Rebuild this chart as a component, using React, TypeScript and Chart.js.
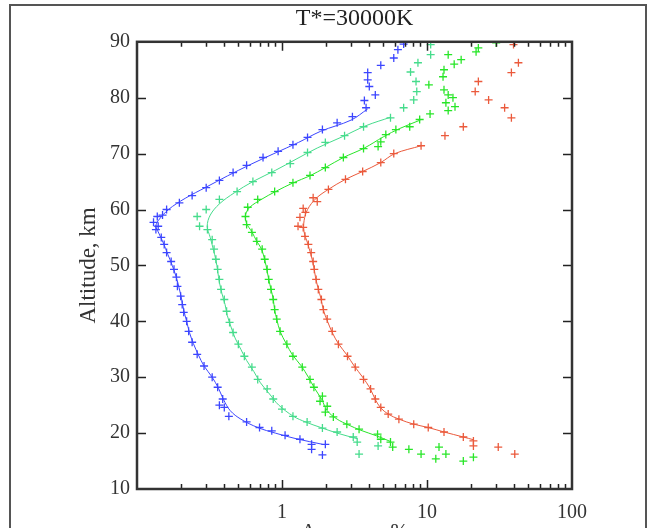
import React, { useEffect, useRef } from "react";
import { Chart, registerables } from "chart.js";

Chart.register(...registerables);

// ---------- data ----------
const chartTitle = "T*=30000K";
const xAxisTitle = "Accuracy, %";
const yAxisTitle = "Altitude, km";
const xTickLabels = [1, 10, 100];
const xMinorTicks = [0.2, 0.3, 0.4, 0.5, 0.6, 0.7, 0.8, 0.9, 1, 2, 3, 4, 5, 6, 7, 8, 9, 10, 20, 30, 40, 50, 60, 70, 80, 90];
const xMajorTicks = [1, 10];
const yTicks = [20, 30, 40, 50, 60, 70, 80];

// blue series (points)
const blueAlt = [89.6, 88.6, 87.1, 85.8, 84.5, 83.2, 82.0, 80.5, 79.5, 78.2, 76.6, 75.5, 74.3, 72.9, 71.6, 70.4, 69.3, 67.9, 66.6, 65.2, 63.9, 62.5, 61.2, 60.0, 59.0, 58.75, 57.7, 57.0, 56.4, 55.0, 53.75, 52.3, 50.7, 49.3, 47.9, 46.25, 44.5, 43.0, 41.6, 40.0, 38.2, 36.25, 34.1, 32.0, 30.0, 28.2, 26.1, 25.0, 24.6, 23.0, 22.0, 21.0, 20.4, 19.6, 18.9, 18.0, 18.0, 17.1, 16.1];
const blueAcc = [6.9, 6.3, 5.9, 4.8, 3.9, 3.9, 4.0, 4.4, 3.7, 3.8, 3.06, 2.4, 1.9, 1.5, 1.19, 0.94, 0.74, 0.57, 0.46, 0.37, 0.30, 0.24, 0.196, 0.16, 0.15, 0.138, 0.13, 0.14, 0.135, 0.147, 0.154, 0.16, 0.172, 0.18, 0.187, 0.19, 0.2, 0.205, 0.21, 0.22, 0.227, 0.24, 0.26, 0.29, 0.33, 0.36, 0.39, 0.37, 0.4, 0.43, 0.57, 0.7, 0.85, 1.05, 1.33, 1.6, 1.99, 1.6, 1.9];
// blue series (fitted line)
const blueFitAlt = [78, 76, 74, 72, 70, 68, 66, 64, 62, 60, 58, 57, 56, 54, 52, 50, 48, 46, 44, 42, 40, 38, 36, 34, 32, 30, 28, 26, 24, 22.5, 21, 20, 19, 18];
const blueFitAcc = [3.9, 3.0, 1.85, 1.3, 0.88, 0.6, 0.42, 0.3, 0.215, 0.165, 0.14, 0.135, 0.14, 0.152, 0.163, 0.175, 0.186, 0.195, 0.203, 0.21, 0.22, 0.23, 0.245, 0.265, 0.29, 0.33, 0.365, 0.395, 0.44, 0.52, 0.68, 0.9, 1.25, 1.9];

// mint series (points)
const mintAlt = [89.5, 87.7, 86.25, 84.6, 82.9, 81.1, 79.6, 78.2, 76.4, 74.8, 73.2, 72.0, 70.2, 68.2, 66.6, 65.0, 63.2, 61.8, 60.0, 58.75, 57.0, 56.4, 54.6, 52.9, 51.1, 49.3, 47.5, 45.7, 43.9, 41.8, 39.8, 38.0, 35.9, 33.75, 31.8, 29.6, 27.9, 26.1, 24.3, 23.0, 22.0, 20.9, 20.2, 19.3, 18.4, 17.7, 16.25];
const mintAcc = [10.6, 10.6, 8.66, 7.7, 8.4, 8.5, 8.1, 6.9, 5.6, 3.65, 2.7, 1.99, 1.5, 1.14, 0.85, 0.63, 0.49, 0.37, 0.3, 0.26, 0.27, 0.306, 0.33, 0.34, 0.35, 0.36, 0.37, 0.38, 0.4, 0.415, 0.435, 0.46, 0.5, 0.55, 0.62, 0.68, 0.79, 0.87, 1.0, 1.19, 1.49, 1.9, 2.4, 3.1, 3.3, 4.6, 3.4];
// mint series (fitted line)
const mintFitAlt = [76.5, 75, 73, 71, 69, 67, 65, 63, 61, 59, 57, 55, 53, 51, 49, 47, 45, 43, 41, 39, 37, 35, 33, 31, 29, 27, 25, 23, 22, 21, 20, 19];
const mintFitAcc = [5.6, 3.8, 2.6, 1.75, 1.25, 0.9, 0.63, 0.47, 0.37, 0.32, 0.305, 0.32, 0.335, 0.35, 0.36, 0.37, 0.385, 0.405, 0.42, 0.445, 0.475, 0.52, 0.57, 0.64, 0.71, 0.82, 0.95, 1.2, 1.45, 1.85, 2.4, 3.3];

// green series (points)
const greenAlt = [89.8, 88.9, 88.2, 87.7, 86.8, 86.0, 85.0, 83.75, 82.3, 81.4, 80.5, 80.0, 79.1, 78.4, 77.7, 77.1, 76.1, 74.8, 74.3, 73.4, 72.1, 71.25, 70.9, 69.3, 67.5, 66.1, 64.8, 63.2, 61.8, 60.4, 58.75, 57.3, 55.9, 54.3, 52.9, 51.1, 49.3, 47.5, 45.7, 43.9, 42.1, 40.4, 38.2, 35.9, 33.75, 31.8, 29.6, 28.2, 26.6, 25.7, 24.8, 23.75, 22.9, 21.6, 20.7, 19.8, 18.9, 18.4, 17.5, 17.1, 16.25, 17.5, 16.25, 15.4, 15.0, 15.7];
const greenAcc = [30, 22.6, 21.8, 14, 17.2, 15.4, 13.1, 12.9, 10.3, 13.1, 14, 15.1, 13.5, 15.6, 14, 10.5, 8.9, 7.6, 6.1, 5.2, 4.8, 4.6, 3.65, 2.65, 1.99, 1.56, 1.19, 0.89, 0.68, 0.58, 0.56, 0.57, 0.62, 0.67, 0.73, 0.76, 0.79, 0.81, 0.84, 0.87, 0.89, 0.92, 0.97, 1.08, 1.19, 1.38, 1.56, 1.66, 1.9, 1.83, 2.05, 1.99, 2.26, 2.8, 3.4, 4.56, 4.8, 5.6, 5.8, 7.5, 9.1, 12.1, 13.5, 11.5, 17.8, 20.9];
// green series (fitted line)
const greenFitAlt = [76, 74.5, 73, 71, 69.3, 67.5, 66, 64.8, 63.2, 61.8, 60.4, 59, 57.5, 56, 54.3, 53, 51, 49, 47.5, 45.7, 44, 42, 40.4, 38.2, 36, 34, 32, 30, 28, 26, 24, 22.5, 21.5, 20.5, 19.5, 18.5];
const greenFitAcc = [9.0, 6.5, 5.0, 3.7, 2.65, 1.99, 1.55, 1.2, 0.9, 0.72, 0.6, 0.56, 0.57, 0.62, 0.67, 0.72, 0.76, 0.79, 0.81, 0.84, 0.87, 0.89, 0.92, 0.97, 1.07, 1.18, 1.36, 1.52, 1.68, 1.88, 2.05, 2.4, 2.85, 3.5, 4.5, 5.6];

// red series (points)
const redAlt = [89.5, 86.25, 84.5, 82.9, 81.1, 79.6, 78.2, 76.4, 74.8, 73.2, 71.4, 70.0, 68.4, 66.8, 65.4, 63.6, 62.1, 61.4, 60.2, 59.5, 58.6, 57.0, 56.8, 55.2, 53.75, 52.3, 50.7, 49.3, 47.5, 45.7, 43.9, 42.1, 40.4, 38.2, 35.9, 33.75, 31.8, 29.6, 27.9, 26.1, 24.6, 23.4, 22.5, 21.6, 21.0, 20.2, 19.3, 18.6, 17.7, 17.5, 16.25];
const redAcc = [39.5, 42.7, 38.2, 22.6, 21.5, 26.6, 34.3, 38.2, 17.8, 13.3, 9.1, 5.9, 4.8, 3.6, 2.74, 2.09, 1.64, 1.75, 1.4, 1.45, 1.33, 1.29, 1.4, 1.44, 1.52, 1.59, 1.64, 1.67, 1.72, 1.78, 1.87, 1.93, 2.05, 2.22, 2.45, 2.83, 3.2, 3.65, 4.08, 4.4, 4.8, 5.4, 6.4, 8.1, 10.2, 13.1, 17.8, 20.9, 20.9, 31, 40.3];
// red series (fitted line)
const redFitAlt = [71.4, 70, 68.4, 66.8, 65.4, 63.6, 62, 60, 58, 56, 54, 52, 50, 48, 46, 44, 42, 40, 38, 36, 34, 32, 30, 28, 26, 24.5, 23.4, 22.5, 21.6, 21, 20.2, 19.3, 18.8];
const redFitAcc = [9.1, 6.0, 4.8, 3.6, 2.74, 2.09, 1.72, 1.5, 1.42, 1.42, 1.5, 1.58, 1.65, 1.7, 1.77, 1.86, 1.93, 2.06, 2.22, 2.45, 2.8, 3.15, 3.6, 4.05, 4.4, 4.8, 5.4, 6.4, 8.1, 10.2, 13.1, 17.8, 21];

// ---------- styles ----------
const BLUE = "rgb(60,70,255)";
const MINT = "rgb(70,220,140)";
const GREEN = "rgb(40,230,40)";
const RED = "rgb(235,90,60)";
const SERIF = "'Liberation Serif', 'Times New Roman', serif";

const toXY = (acc: number[], alt: number[]) => acc.map((v, i) => ({ x: v, y: alt[i] }));

const pointsDs = (label: string, acc: number[], alt: number[], color: string) => ({
  label,
  data: toXY(acc, alt),
  showLine: false,
  pointStyle: "cross",
  pointRadius: 4,
  pointBorderWidth: 1.3,
  borderColor: color,
  backgroundColor: color,
});

const lineDs = (label: string, acc: number[], alt: number[], color: string) => ({
  label,
  data: toXY(acc, alt),
  showLine: true,
  pointRadius: 0,
  borderWidth: 1,
  borderColor: color,
  backgroundColor: color,
  tension: 0.35,
});

const framePlugin = {
  id: "frameTicks",
  beforeDraw(chart: any) {
    const { ctx, width, height } = chart;
    ctx.save();
    ctx.fillStyle = "#fff";
    ctx.fillRect(0, 0, width, height);
    ctx.strokeStyle = "#555";
    ctx.lineWidth = 2;
    ctx.strokeRect(10, 5, 636, height + 20);
    ctx.restore();
  },
  afterDatasetsDraw(chart: any) {
    const { ctx, chartArea: a, scales } = chart;
    const xs = scales.x;
    const ys = scales.y;
    ctx.save();
    ctx.strokeStyle = "#222";
    ctx.lineWidth = 1.5;
    ctx.beginPath();
    xMinorTicks.forEach((v) => {
      const px = Math.round(xs.getPixelForValue(v)) + 0.5;
      const len = xMajorTicks.includes(v) ? 9 : 5;
      ctx.moveTo(px, a.bottom);
      ctx.lineTo(px, a.bottom - len);
      ctx.moveTo(px, a.top);
      ctx.lineTo(px, a.top + len);
    });
    yTicks.forEach((v) => {
      const py = Math.round(ys.getPixelForValue(v)) + 0.5;
      ctx.moveTo(a.left, py);
      ctx.lineTo(a.left + 9, py);
      ctx.moveTo(a.right, py);
      ctx.lineTo(a.right - 9, py);
    });
    ctx.stroke();
    ctx.strokeStyle = "#333";
    ctx.lineWidth = 2.5;
    ctx.strokeRect(a.left, a.top, a.right - a.left, a.bottom - a.top);
    ctx.restore();
  },
};

export default function App() {
  const ref = useRef<HTMLCanvasElement | null>(null);

  useEffect(() => {
    if (!ref.current) return;
    const chart = new Chart(ref.current, {
      type: "scatter",
      data: {
        datasets: [
          lineDs("blue fit", blueFitAcc, blueFitAlt, BLUE),
          lineDs("mint fit", mintFitAcc, mintFitAlt, MINT),
          lineDs("green fit", greenFitAcc, greenFitAlt, GREEN),
          lineDs("red fit", redFitAcc, redFitAlt, RED),
          pointsDs("blue", blueAcc, blueAlt, BLUE),
          pointsDs("mint", mintAcc, mintAlt, MINT),
          pointsDs("green", greenAcc, greenAlt, GREEN),
          pointsDs("red", redAcc, redAlt, RED),
        ] as any,
      },
      options: {
        animation: false,
        responsive: false,
        devicePixelRatio: 1,
        layout: { padding: { left: 0, right: 85, top: 0, bottom: 0 } },
        plugins: {
          legend: { display: false },
          tooltip: { enabled: false },
          title: {
            display: true,
            text: chartTitle,
            fullSize: false,
            color: "#222",
            font: { family: SERIF, size: 24, weight: "normal" },
            padding: { top: 4, bottom: 9 },
          },
        },
        scales: {
          x: {
            type: "logarithmic",
            position: "bottom",
            min: 0.1,
            max: 100,
            grid: { display: false, drawTicks: false },
            border: { display: false },
            afterBuildTicks: (scale: any) => {
              scale.ticks = xTickLabels.map((v) => ({ value: v }));
            },
            ticks: {
              autoSkip: false,
              maxRotation: 0,
              padding: 12,
              color: "#333",
              font: { family: SERIF, size: 20 },
              callback: (v: any) => String(v),
            },
            title: {
              display: true,
              text: xAxisTitle,
              color: "#333",
              font: { family: SERIF, size: 21 },
              padding: { top: 15, bottom: 15 },
            },
            afterFit: (scale: any) => {
              scale.height = 71;
            },
          },
          y: {
            type: "linear",
            position: "left",
            min: 10,
            max: 90,
            grid: { display: false, drawTicks: false },
            border: { display: false },
            ticks: {
              stepSize: 10,
              padding: 7,
              color: "#333",
              font: { family: SERIF, size: 20 },
            },
            title: {
              display: true,
              text: yAxisTitle,
              color: "#333",
              font: { family: SERIF, size: 23 },
              padding: { top: 75, bottom: 0 },
            },
            afterFit: (scale: any) => {
              scale.width = 137;
            },
          },
        },
      } as any,
      plugins: [framePlugin],
    });
    return () => chart.destroy();
  }, []);

  return (
    <div style={{ position: "fixed", left: 0, top: 0, width: 657, height: 560, background: "#fff" }}>
      <canvas ref={ref} width={657} height={560} style={{ display: "block" }} />
    </div>
  );
}
